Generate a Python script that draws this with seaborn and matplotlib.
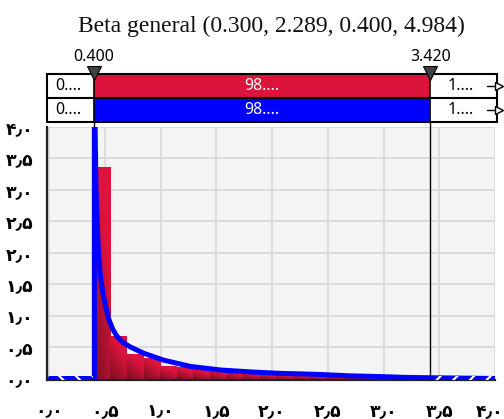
import numpy as np
import pandas as pd
import seaborn as sns
import matplotlib
matplotlib.use("Agg")
import matplotlib.pyplot as plt
import matplotlib.transforms as mtransforms
from matplotlib.patches import Rectangle

# ---------------- data ----------------
title_text = "Beta general (0.300, 2.289, 0.400, 4.984)"
left_delim = 0.400
right_delim = 3.420
left_delim_label = "0.400"
right_delim_label = "3.420"
band_left_text = "0...."
band_mid_text = "98...."
band_right_text = "1...."

bin_edges = [0.400, 0.549, 0.698, 0.847, 0.996, 1.145, 1.294, 1.443, 1.592, 1.741,
             1.890, 2.039, 2.188, 2.337, 2.486, 2.635, 2.784, 2.933, 3.082, 3.231, 3.380]
bin_heights = [3.36, 0.68, 0.40, 0.34, 0.20, 0.185, 0.155, 0.13, 0.12, 0.10,
               0.08, 0.065, 0.05, 0.045, 0.06, 0.035, 0.03, 0.025, 0.02, 0.015]

curve_x = [0.0, 0.405, 0.405, 0.41, 0.42, 0.43, 0.442, 0.46, 0.48, 0.50, 0.532, 0.57, 0.607,
           0.66, 0.726, 0.846, 1.025, 1.265, 1.534, 1.83, 2.07, 2.40, 2.70, 3.00, 3.20, 3.42, 4.0]
curve_y = [0.0, 0.0, 4.6, 4.2, 3.0, 2.5, 2.0, 1.62, 1.38, 1.2, 0.96, 0.79, 0.68,
           0.58, 0.51, 0.41, 0.30, 0.20, 0.143, 0.11, 0.09, 0.074, 0.05, 0.037, 0.025, 0.02, 0.008]

x_ticks = [0.0, 0.5, 1.0, 1.5, 2.0, 2.5, 3.0, 3.5, 4.0]
y_ticks = [0.0, 0.5, 1.0, 1.5, 2.0, 2.5, 3.0, 3.5, 4.0]
tick_labels = ["۰٫۰", "۰٫۵", "۱٫۰", "۱٫۵", "۲٫۰", "۲٫۵", "۳٫۰", "۳٫۵", "۴٫۰"]

# ---------------- style ----------------
sns.set_style("white")
plt.rcParams['font.family'] = ['DejaVu Sans']
plt.rcParams['hatch.linewidth'] = 1.6

RED = "#dc143c"
DARK = np.array([100, 12, 28]) / 255.0
CRIM = np.array([220, 20, 60]) / 255.0
BLUE = "#0000ff"

W, H = 504, 419
fig = plt.figure(figsize=(W / 100, H / 100), dpi=100)

def fx(px):
    return px / W

def fy(py):
    return 1 - py / H

ax = fig.add_axes([fx(47), fy(380), fx(495) - fx(47), fy(127) - fy(380)])
ax.set_facecolor("#f4f4f4")
ax.set_xlim(-0.02, 4.0)
ax.set_ylim(-0.016, 4.0)

# histogram via seaborn (weights = bar heights)
centers = [(bin_edges[i] + bin_edges[i + 1]) / 2 for i in range(len(bin_heights))]
hist_df = pd.DataFrame({"x": centers, "w": bin_heights})
n_before = len(ax.patches)
sns.histplot(data=hist_df, x="x", weights="w", bins=bin_edges, stat="count",
             color=RED, edgecolor="none", linewidth=0, alpha=1, ax=ax, zorder=2)
bars = ax.patches[n_before:]

# gradient fill for each bar
for p in bars:
    x0, y0 = p.get_x(), p.get_y()
    w, h = p.get_width(), p.get_height()
    if h <= 0:
        continue
    nu, nv = 32, 64
    u = np.linspace(0, 1, nu)[None, :]
    v = np.linspace(0, 1, nv)[:, None]
    s = np.clip(0.2 + 0.45 * u + 0.75 * v, 0, 1)
    img = DARK[None, None, :] + (CRIM - DARK)[None, None, :] * s[:, :, None]
    im = ax.imshow(img, extent=[x0, x0 + w, y0, y0 + h], origin="lower",
                   aspect="auto", interpolation="bilinear", zorder=2.1)
    im.set_clip_path(p)
    p.set_facecolor("none")
ax.set_xlim(-0.02, 4.0)
ax.set_ylim(-0.016, 4.0)

# delimiter lines
for xd in (left_delim, right_delim):
    ax.plot([xd, xd], [-0.016, 4.1], color="black", lw=1.0, zorder=3, clip_on=False)

# density curve
sns.lineplot(x=curve_x, y=curve_y, sort=False, estimator=None, color=BLUE,
             lw=3.6, ax=ax, zorder=4)

# hatched areas outside delimiters
for (a, b, hatch) in ((0.0, left_delim - 0.01, "\\\\"), (right_delim, 4.0, "//")):
    ax.add_patch(Rectangle((a, -0.016), b - a, 0.066, facecolor=BLUE,
                           edgecolor="white", hatch=hatch, lw=0, zorder=5))

ax.set_xticks(x_ticks)
ax.set_xticklabels(tick_labels)
ax.set_yticks(y_ticks)
ax.set_yticklabels(tick_labels)
for lab in ax.get_xticklabels() + ax.get_yticklabels():
    lab.set_fontweight("bold")
    lab.set_fontsize(12.5)
ax.tick_params(axis="x", length=5, width=1.5, pad=11, colors="#222222", labelcolor="black")
ax.tick_params(axis="y", length=4, width=1.5, pad=6, colors="#222222", labelcolor="black")
# keep the last x label inside the canvas, like the reference
last = ax.get_xticklabels()[-1]
last.set_transform(last.get_transform() + mtransforms.ScaledTranslation(-5 / 100, 0, fig.dpi_scale_trans))
ax.grid(True, color="#d9d9d9", lw=1.3)
ax.set_axisbelow(True)
ax.set_xlabel("")
ax.set_ylabel("")
for sp in ("top", "right"):
    ax.spines[sp].set_visible(False)
for sp in ("left", "bottom"):
    ax.spines[sp].set_color("#222222")
    ax.spines[sp].set_linewidth(1.6)

# ---------------- band above ----------------
axb = fig.add_axes([fx(47), fy(122.5), fx(497) - fx(47), fy(74) - fy(122.5)])
bx0, bx1 = -0.02, -0.02 + 450 / 111.45
axb.set_xlim(bx0, bx1)
axb.set_ylim(0, 2)
axb.axis("off")
for row, col in ((1, RED), (0, BLUE)):
    axb.add_patch(Rectangle((bx0, row), left_delim - bx0, 1, facecolor="white", edgecolor="none"))
    axb.add_patch(Rectangle((left_delim, row), right_delim - left_delim, 1, facecolor=col, edgecolor="none"))
    axb.add_patch(Rectangle((right_delim, row), bx1 - right_delim, 1, facecolor="white", edgecolor="none"))
    yc = row + 0.5
    axb.text(0.052, yc, band_left_text, ha="left", va="center", fontsize=11.5,
             family="Noto Sans", color="black")
    axb.text((left_delim + right_delim) / 2, yc, band_mid_text, ha="center", va="center",
             fontsize=11.5, family="Noto Sans", color="white")
    axb.text(3.696, yc, band_right_text, ha="center", va="center", fontsize=11.5,
             family="Noto Sans", color="black")
    axb.plot([3.93, 4.02], [yc, yc], color="black", lw=1.0, clip_on=False)
    axb.plot([4.035], [yc], marker=">", markersize=6, markerfacecolor="white",
             markeredgecolor="black", markeredgewidth=1.0, clip_on=False)
axb.add_patch(Rectangle((bx0, 0), bx1 - bx0, 2, facecolor="none", edgecolor="black", lw=1.5, clip_on=False))
axb.plot([bx0, bx1], [1, 1], color="black", lw=1.5)
for xd in (left_delim, right_delim):
    axb.plot([xd, xd], [0, 2], color="black", lw=1.2)
    axb.plot([xd], [2.04], marker="v", markersize=10, color="#404040",
             markeredgecolor="black", markeredgewidth=0.8, clip_on=False, zorder=6)
axb.text(left_delim, 2.70, left_delim_label, ha="center", va="center", fontsize=11.5,
         family="Noto Sans", color="black")
axb.text(right_delim, 2.70, right_delim_label, ha="center", va="center", fontsize=11.5,
         family="Noto Sans", color="black")

fig.text(fx(271.5), fy(31.5), title_text, ha="center", va="baseline",
         fontsize=17, family="Liberation Serif", color="#111111")

fig.savefig("out.png", dpi=100)
